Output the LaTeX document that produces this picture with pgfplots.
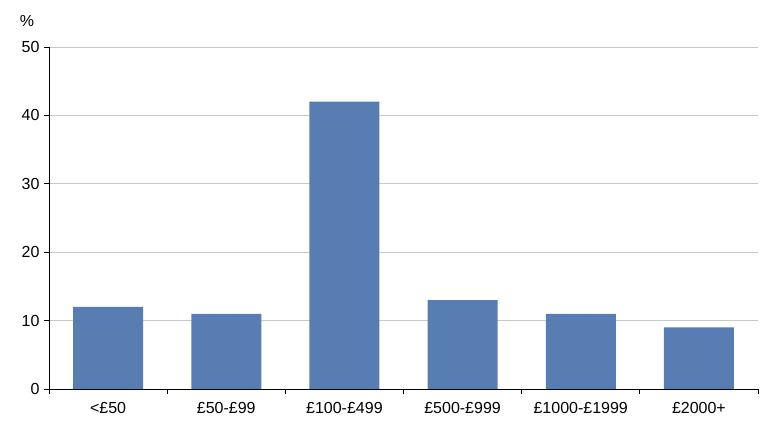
\documentclass[border=0pt]{standalone}
\usepackage{pgfplots}
\pgfplotsset{compat=1.18}
\usepackage{fontspec}
\setmainfont{Liberation Sans}
\definecolor{barblue}{RGB}{88,125,178}
\definecolor{gridgray}{RGB}{200,200,200}
\begin{document}
\begin{tikzpicture}
\path[use as bounding box] (-49bp,-33bp) rectangle (730bp,389bp);
\begin{axis}[
  at={(0,0)}, anchor=south west,
  scale only axis,
  width=709bp, height=342bp,
  xmin=-0.5, xmax=5.5,
  ymin=0, ymax=50,
  ytick={0,10,...,50},
  xtick={0,...,5},
  xticklabels={<£50,£50-£99,£100-£499,£500-£999,£1000-£1999,£2000+},
  minor xtick={-0.5,0.5,...,5.5},
  axis x line*=bottom,
  axis y line*=left,
  tick align=outside,
  major tick length=5bp,
  minor tick length=5bp,
  major x tick style={draw=none},
  tick style={black, line width=0.8pt},
  axis line style={black, line width=0.8pt},
  ymajorgrids,
  grid style={gridgray, line width=0.8pt},
  font=\fontsize{16bp}{18bp}\selectfont,
  tick label style={font=\fontsize{16bp}{18bp}\selectfont},
  /pgf/number format/assume math mode=true,
  xticklabel style={yshift=-5bp},
  yticklabel style={xshift=-1bp},
  clip=false,
]
\addplot[ybar, bar width=70bp, fill=barblue, draw=none] coordinates {
  (0,12) (1,11) (2,42) (3,13) (4,11) (5,9)
};
\node at (rel axis cs:0,1) [xshift=-22bp, yshift=26bp] {\%};
\end{axis}
\end{tikzpicture}
\end{document}
